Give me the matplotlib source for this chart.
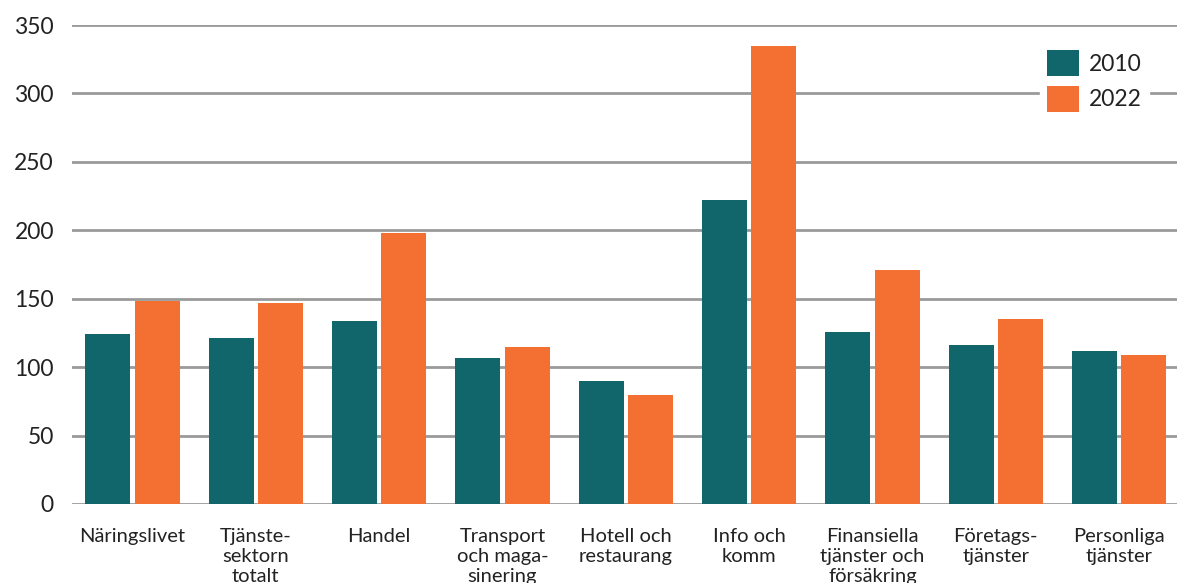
import matplotlib
matplotlib.use("Agg")
import matplotlib.pyplot as plt
import numpy as np

categories = ["Näringslivet", "Tjänste-\nsektorn\ntotalt", "Handel", "Transport\noch maga-\nsinering",
              "Hotell och\nrestaurang", "Info och\nkomm", "Finansiella\ntjänster och\nförsäkring",
              "Företags-\ntjänster", "Personliga\ntjänster"]
v2010 = [124, 121, 134, 107, 90, 222, 126, 116, 112]
v2022 = [148, 147, 198, 115, 80, 335, 171, 135, 109]
series_labels = ["2010", "2022"]
yticks = [0, 50, 100, 150, 200, 250, 300, 350]

plt.rcParams['font.family'] = ['Lato', 'DejaVu Sans']
fig = plt.figure(figsize=(11.77, 5.83), dpi=100)
ax = fig.add_axes([72/1177, 79/583, 1105/1177, 479/583])

x = np.arange(len(categories))
w = 0.365
ax.bar(x - 0.2, v2010, w, color="#10666B", label=series_labels[0], zorder=3)
ax.bar(x + 0.2, v2022, w, color="#F37032", label=series_labels[1], zorder=3)

ax.set_xlim(-0.49, 8.47)
ax.set_ylim(0, 350)
ax.set_yticks(yticks)
for t in yticks:
    ax.axhline(t, color="#9a9a9a", lw=2, zorder=1)
for s in ax.spines.values():
    s.set_visible(False)
ax.tick_params(axis='y', length=0, pad=13, labelsize=16.5, labelcolor="#222222")
ax.tick_params(axis='x', length=0, pad=17, labelsize=14.5, labelcolor="#222222")
ax.set_xticks(x)
ax.set_xticklabels(categories, linespacing=1.22, va='top')

leg = ax.legend(loc='upper left', bbox_to_anchor=(1040/1177, 1 - 43/583), bbox_transform=fig.transFigure,
                frameon=True, fancybox=False,
                edgecolor='white', facecolor='white', framealpha=1, fontsize=16.5,
                handlelength=1.4, handleheight=1.4, handletextpad=0.45, labelspacing=0.4,
                borderpad=0.3, borderaxespad=0)
leg.set_zorder(5)
for t in leg.get_texts():
    t.set_color("#222222")

fig.savefig("out.png", dpi=100)
